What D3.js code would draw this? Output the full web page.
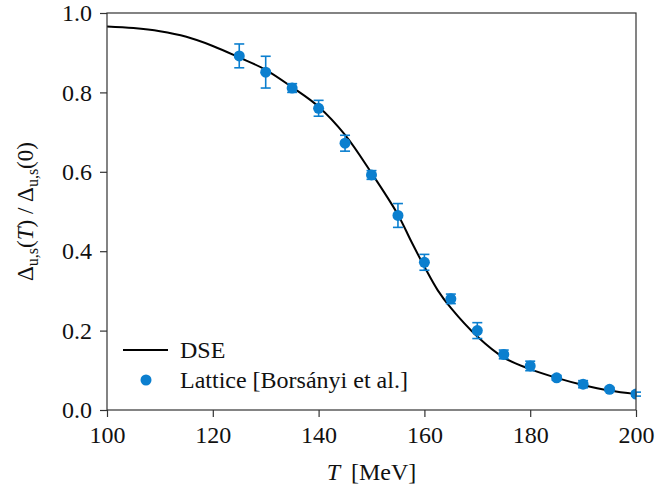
<!DOCTYPE html>
<html>
<head>
<meta charset="utf-8">
<script src="https://cdn.jsdelivr.net/npm/d3@7"></script>
<style>
  body { margin: 0; background: #fff; }
  svg text { font-family: "Liberation Serif", "Times New Roman", Tinos, "Nimbus Roman", "Noto Serif", "DejaVu Serif", serif !important; }
</style>
</head>
<body>
<svg id="chart" width="657" height="494"></svg>
<script>
// DSE curve
const dseT = [100, 105, 110, 115, 120, 125, 130, 135, 140, 145, 150, 155, 157.5, 160, 162.5, 165, 170, 175, 180, 185, 190, 195, 200];
const dseVal = [0.966, 0.962, 0.954, 0.940, 0.917, 0.888, 0.857, 0.813, 0.764, 0.693, 0.597, 0.492, 0.425, 0.361, 0.302, 0.257, 0.185, 0.132, 0.103, 0.081, 0.063, 0.049, 0.040];

// lattice points
const latT = [125, 130, 135, 140, 145, 150, 155, 160, 165, 170, 175, 180, 185, 190, 195, 200];
const latVal = [0.892, 0.851, 0.811, 0.760, 0.672, 0.592, 0.490, 0.372, 0.280, 0.200, 0.140, 0.111, 0.081, 0.065, 0.052, 0.040];
const latErr = [0.030, 0.040, 0.011, 0.020, 0.020, 0.011, 0.030, 0.020, 0.012, 0.020, 0.011, 0.012, 0.006, 0.009, 0.005, 0.005];

const xTicks = [100, 120, 140, 160, 180, 200];
const yTicks = [0.0, 0.2, 0.4, 0.6, 0.8, 1.0];

const blue = '#0b7fcf';
const margin = { top: 13, right: 21, bottom: 84, left: 107 };
const width = 657 - margin.left - margin.right;
const height = 494 - margin.top - margin.bottom;

const svg = d3.select('#chart');
const g = svg.append('g')
  .attr('transform', `translate(${margin.left},${margin.top})`);

const x = d3.scaleLinear().domain([100, 200]).range([0, width]);
const y = d3.scaleLinear().domain([0, 1]).range([height, 0]);

svg.append('defs').append('clipPath').attr('id', 'clip')
  .append('rect').attr('width', width).attr('height', height);

// curve
const line = d3.line()
  .x((d, i) => x(dseT[i]))
  .y(d => y(d))
  .curve(d3.curveCatmullRom);

g.append('path')
  .datum(dseVal)
  .attr('d', line)
  .attr('fill', 'none')
  .attr('stroke', '#000')
  .attr('stroke-width', 2);

// error bars + points
const pts = latT.map((t, i) => ({ t, v: latVal[i], e: latErr[i] }));
const eb = g.append('g').attr('stroke', blue).attr('stroke-width', 1.6).attr('fill', 'none');
pts.forEach(d => {
  eb.append('line')
    .attr('x1', x(d.t)).attr('x2', x(d.t))
    .attr('y1', y(d.v - d.e)).attr('y2', y(d.v + d.e));
  [d.v - d.e, d.v + d.e].forEach(c => {
    eb.append('line')
      .attr('x1', x(d.t) - 5).attr('x2', x(d.t) + 5)
      .attr('y1', y(c)).attr('y2', y(c));
  });
});

g.append('g')
  .attr('clip-path', 'url(#clip)')
  .selectAll('circle')
  .data(pts)
  .join('circle')
  .attr('cx', d => x(d.t))
  .attr('cy', d => y(d.v))
  .attr('r', 5.5)
  .attr('fill', blue);

// axes
const xAxis = g.append('g')
  .attr('transform', `translate(0,${height})`)
  .call(d3.axisBottom(x).tickValues(xTicks).tickSize(7).tickPadding(9).tickFormat(d3.format('d')));
const yAxis = g.append('g')
  .call(d3.axisLeft(y).tickValues(yTicks).tickSize(7).tickPadding(8).tickFormat(d3.format('.1f')));

[xAxis, yAxis].forEach(a => {
  a.attr('font-family', null);
  a.select('.domain').remove();
  a.selectAll('.tick line').attr('stroke', '#333').attr('stroke-width', 1.2);
  a.selectAll('text')
    .attr('font-size', 24)
    .attr('fill', '#111');
});

g.append('rect')
  .attr('width', width).attr('height', height)
  .attr('fill', 'none').attr('stroke', '#333').attr('stroke-width', 1.2);

// legend
const leg = g.append('g');
leg.append('line')
  .attr('x1', 16).attr('x2', 61).attr('y1', 337).attr('y2', 337)
  .attr('stroke', '#000').attr('stroke-width', 2);
leg.append('text').attr('x', 73).attr('y', 345).attr('font-size', 24).attr('fill', '#111').text('DSE');
leg.append('circle').attr('cx', 39).attr('cy', 367).attr('r', 5.5).attr('fill', blue);
leg.append('text').attr('x', 73).attr('y', 375).attr('font-size', 24).attr('fill', '#111').text('Lattice [Borsányi et al.]');

// x label
const xl = svg.append('text')
  .attr('x', margin.left + width / 2)
  .attr('y', 480)
  .attr('text-anchor', 'middle')
  .attr('font-size', 24)
  .attr('fill', '#111');
xl.append('tspan').attr('font-style', 'italic').text('T');
xl.append('tspan').text('\u2009 [MeV]');

// y label
const yl = svg.append('text')
  .attr('transform', `translate(33,${margin.top + height / 2}) rotate(-90)`)
  .attr('text-anchor', 'middle')
  .attr('font-size', 23)
  .attr('fill', '#111');
yl.append('tspan').text('Δ');
yl.append('tspan').attr('font-size', 16).attr('dy', 5).text('u,s');
yl.append('tspan').attr('dy', -5).text('(');
yl.append('tspan').attr('font-style', 'italic').text('T');
yl.append('tspan').text(') / Δ');
yl.append('tspan').attr('font-size', 16).attr('dy', 5).text('u,s');
yl.append('tspan').attr('dy', -5).text('(0)');
</script>
</body>
</html>
